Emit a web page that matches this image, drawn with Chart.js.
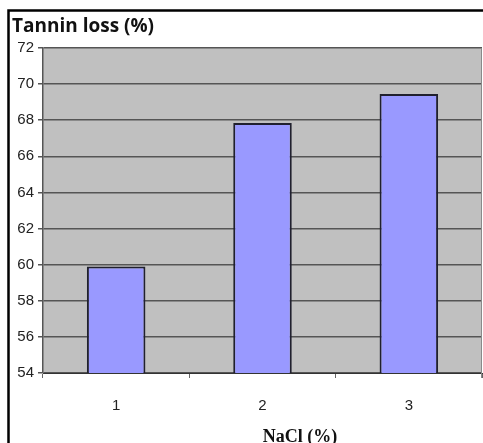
<!DOCTYPE html>
<html>
<head>
<meta charset="utf-8">
<script src="https://cdn.jsdelivr.net/npm/chart.js@4.4.1/dist/chart.umd.min.js"></script>
<style>
  html, body { margin: 0; padding: 0; background: #ffffff; }
  #wrap { width: 483px; height: 443px; position: relative; }
</style>
</head>
<body>
<div id="wrap"><canvas id="c" width="483" height="443"></canvas></div>
<script>
// Tannin loss measured at each NaCl concentration
const categories = ['1', '2', '3'];
const tanninLoss = [59.9, 67.85, 69.45];
const yMin = 54;
const yMax = 72;
const yStep = 2;
const chartTitle = 'Tannin loss (%)';
const xAxisTitle = 'NaCl (%)';

// Grey plot background, outer frame and the text outside the axes
const decorations = {
  id: 'decorations',
  beforeDraw(chart) {
    const { ctx, chartArea: a } = chart;
    ctx.save();
    ctx.fillStyle = '#c0c0c0';
    ctx.fillRect(a.left, a.top, a.right - a.left, a.bottom - a.top);
    ctx.restore();
  },
  afterDraw(chart) {
    const { ctx, chartArea: a } = chart;
    ctx.save();
    // right edge of the plot
    ctx.strokeStyle = '#8a8a8a';
    ctx.lineWidth = 1;
    ctx.beginPath();
    ctx.moveTo(a.right - 0.5, a.top);
    ctx.lineTo(a.right - 0.5, a.bottom + 5);
    ctx.stroke();
    // frame
    ctx.strokeStyle = '#000000';
    ctx.lineWidth = 2.5;
    ctx.beginPath();
    ctx.moveTo(8.5, 443);
    ctx.lineTo(8.5, 10.5);
    ctx.lineTo(483, 10.5);
    ctx.stroke();
    // chart title
    ctx.fillStyle = '#111111';
    ctx.font = 'bold 19px "Open Sans", Lato, sans-serif';
    ctx.textAlign = 'left';
    ctx.textBaseline = 'alphabetic';
    ctx.fillText(chartTitle, 12, 32);
    // x axis title
    ctx.font = 'bold 18px "Liberation Serif", "Times New Roman", serif';
    ctx.textAlign = 'center';
    ctx.fillText(xAxisTitle, 300, 442);
    ctx.restore();
  }
};

new Chart(document.getElementById('c'), {
  type: 'bar',
  data: {
    labels: categories,
    datasets: [{
      data: tanninLoss,
      backgroundColor: '#9999ff',
      borderColor: '#20202e',
      borderWidth: 2,
      borderSkipped: false,
      barPercentage: 0.4,
      categoryPercentage: 1.0
    }]
  },
  options: {
    responsive: false,
    animation: false,
    devicePixelRatio: 1,
    layout: { padding: { left: 0, right: 1, top: 48, bottom: 25 } },
    plugins: {
      legend: { display: false },
      title: { display: false },
      tooltip: { enabled: false }
    },
    scales: {
      x: {
        afterFit(scale) { scale.height = 45; },
        grid: {
          offset: true,
          drawOnChartArea: false,
          tickLength: 5,
          color: '#666666'
        },
        border: { display: true, color: '#333333', width: 1 },
        ticks: {
          padding: 19,
          autoSkip: false,
          maxRotation: 0,
          color: '#222222',
          font: { family: '"Liberation Sans Narrow", "Liberation Sans", Arial, sans-serif', size: 15 }
        }
      },
      y: {
        min: yMin,
        max: yMax,
        afterFit(scale) { scale.width = 43; },
        grid: {
          color: '#555555',
          lineWidth: 1.5,
          tickLength: 5
        },
        border: { display: true, color: '#555555', width: 1.5 },
        ticks: {
          stepSize: yStep,
          padding: 4,
          color: '#222222',
          font: { family: '"Liberation Sans Narrow", "Liberation Sans", Arial, sans-serif', size: 15 }
        }
      }
    }
  },
  plugins: [decorations]
});
</script>
</body>
</html>
